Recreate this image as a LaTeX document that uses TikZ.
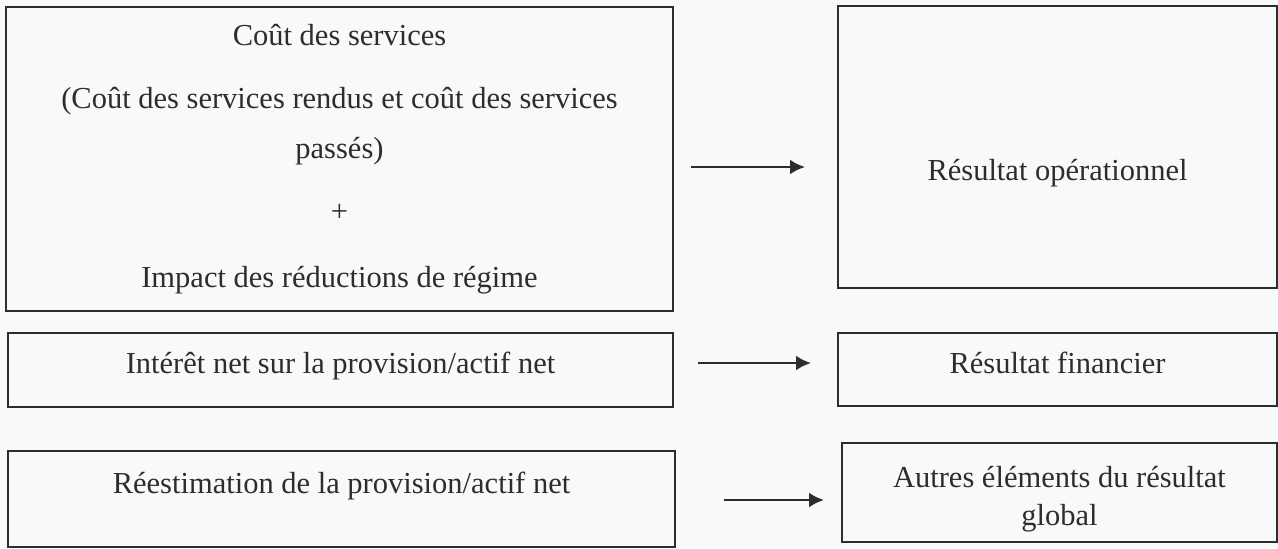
\documentclass[tikz,border=0pt]{standalone}
\usepackage{fontspec}
\setmainfont{Liberation Serif}
\usetikzlibrary{arrows.meta}
\definecolor{paper}{RGB}{247,249,250}
\definecolor{ink}{RGB}{45,45,45}

\begin{document}
\begin{tikzpicture}[x=0.5pt, y=-0.5pt,
	box/.style={draw=ink, line width=1pt, inner sep=0pt, align=center, text=ink,
		font=\fontsize{15.25}{19}\selectfont},
	arr/.style={-{Latex[length=7.5pt,width=7.5pt]}, line width=1.3pt, ink}]
	\fill[paper] (0,0) rectangle (1278,548);
	\useasboundingbox (0,0) rectangle (1278,548);
	% left column
	\node[box, minimum width=333.5pt, minimum height=152pt,
		font=\fontsize{15.25}{25}\selectfont] (cout) at (339.5,159)
		{Coût des services\\[6.75pt]
		 (Coût des services rendus et coût des services\\
		 passés)\\[6.5pt]
		 +\\[7.8pt]
		 Impact des réductions de régime};
	\node[box, minimum width=332.5pt, text height=20pt, text depth=17pt] (interet) at (340.5,370)
		{Intérêt net sur la provision/actif net};
	\node[box, minimum width=333.5pt, text height=21pt, text depth=27pt] (reest) at (341.5,499)
		{Réestimation de la provision/actif net};
	% right column
	\node[box, minimum width=219.5pt, text height=87pt, text depth=54pt] (operationnel) at (1057.5,147)
		{Résultat opérationnel};
	\node[box, minimum width=219.5pt, text height=20pt, text depth=16.5pt] (financier) at (1057.5,369.5)
		{Résultat financier};
	\node[box, align=flush center, text width=217.5pt, text height=22pt, text depth=27.5pt] (autres) at (1059.5,492.5)
		{Autres éléments du résultat\\global};
	% arrows
	\draw[arr, shorten <=8.5pt, shorten >=16pt] ([yshift=-4pt]cout.east) -- ([yshift=-4pt]cout.east -| operationnel.west);
	\draw[arr, shorten <=12pt, shorten >=13pt] ([yshift=3.5pt]interet.east) -- ([yshift=3.5pt]interet.east -| financier.west);
	\draw[arr, shorten <=24pt, shorten >=8.5pt] ([yshift=-0.5pt]reest.east) -- ([yshift=-0.5pt]reest.east -| autres.west);
\end{tikzpicture}
\end{document}
